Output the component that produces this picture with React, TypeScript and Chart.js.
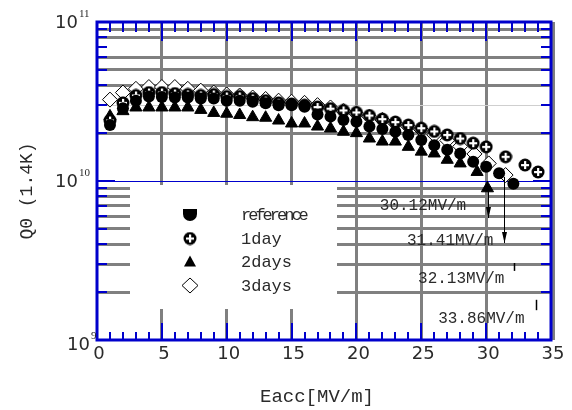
import React, { useEffect, useRef } from 'react';
import { Chart, registerables } from 'chart.js';

Chart.register(...registerables);

// ---- data (Eacc in MV/m, Q0) ----
const refE = [1, 2, 3, 4, 5, 6, 7, 8, 9, 10, 11, 12, 13, 14, 15, 16, 17, 18, 19, 20, 21, 22, 23, 24, 25, 26, 27, 28, 29, 30, 31, 32.1];
const refQ = [2.25e10, 2.87e10, 3.2e10, 3.4e10, 3.38e10, 3.35e10, 3.35e10, 3.3e10, 3.3e10, 3.2e10, 3.2e10, 3.15e10, 3.08e10, 3.0e10, 3.0e10, 2.93e10, 2.62e10, 2.54e10, 2.42e10, 2.36e10, 2.2e10, 2.12e10, 2.04e10, 1.95e10, 1.81e10, 1.68e10, 1.57e10, 1.49e10, 1.32e10, 1.23e10, 1.12e10, 9.6e9];

const oneDayE = [1, 2, 3, 4, 5, 6, 7, 8, 9, 10, 11, 12, 13, 14, 15, 16, 17, 18, 19, 20, 21, 22, 23, 24, 25, 26, 27, 28, 29, 30, 31.5, 33, 34];
const oneDayQ = [2.4e10, 3.1e10, 3.45e10, 3.6e10, 3.6e10, 3.55e10, 3.5e10, 3.45e10, 3.5e10, 3.4e10, 3.4e10, 3.3e10, 3.2e10, 3.1e10, 3.05e10, 3.0e10, 2.92e10, 2.85e10, 2.78e10, 2.7e10, 2.58e10, 2.45e10, 2.35e10, 2.25e10, 2.15e10, 2.05e10, 1.95e10, 1.85e10, 1.73e10, 1.64e10, 1.42e10, 1.26e10, 1.14e10];

const twoDaysE = [1, 2, 3, 4, 5, 6, 7, 8, 9, 10, 11, 12, 13, 14, 15, 16, 17, 18, 19, 20, 21, 22, 23, 24, 25, 26, 27, 28, 29.3, 30.1];
const twoDaysQ = [2.55e10, 2.75e10, 2.9e10, 2.9e10, 2.9e10, 2.9e10, 2.9e10, 2.8e10, 2.68e10, 2.65e10, 2.6e10, 2.52e10, 2.5e10, 2.4e10, 2.3e10, 2.3e10, 2.2e10, 2.14e10, 2.04e10, 2.0e10, 1.85e10, 1.77e10, 1.77e10, 1.64e10, 1.53e10, 1.49e10, 1.36e10, 1.29e10, 1.14e10, 9.0e9];

const threeDaysE = [1, 2, 3, 4, 5, 6, 7, 8, 9, 10, 11, 12, 13, 14, 15, 16, 17, 18, 19, 20, 21, 22, 23, 24, 25, 26, 27, 28, 29.1, 30.2, 31.5];
const threeDaysQ = [3.25e10, 3.6e10, 3.8e10, 3.9e10, 3.9e10, 3.9e10, 3.8e10, 3.7e10, 3.6e10, 3.5e10, 3.45e10, 3.35e10, 3.28e10, 3.2e10, 3.15e10, 3.1e10, 3.0e10, 2.9e10, 2.75e10, 2.65e10, 2.54e10, 2.42e10, 2.3e10, 2.2e10, 2.1e10, 1.95e10, 1.8e10, 1.65e10, 1.48e10, 1.29e10, 1.09e10];

const seriesLabels = ['reference', '1day', '2days', '3days'];

// quench annotations
const quenchE = [30.12, 31.41, 32.13, 33.86];
const quenchText = ['30.12MV/m', '31.41MV/m', '32.13MV/m', '33.86MV/m'];
const arrowTopQ = [9.3e9, 1.06e10, 3.05e9, 1.79e9];
const arrowBottomQ = [5.85e9, 4.07e9, 2.72e9, 1.54e9];
const textE = [21.8, 23.9, 24.75, 26.3];
const textQ = [6.96e9, 4.2e9, 2.42e9, 1.36e9];

// axis ticks
const xMin = 0;
const xMax = 35;
const xStep = 5;
const yMin = 1e9;
const yMax = 1e11;
const yMajor = [1e9, 1e10, 1e11];
const yMajorExp = ['9', '10', '11'];
const yGrid = [1e9, 2e9, 3e9, 4e9, 5e9, 6e9, 7e9, 8e9, 9e9, 1e10, 2e10, 3e10, 4e10, 5e10, 6e10, 7e10, 8e10, 9e10, 1e11];

const BLUE = '#0000cc';
const GREY = '#808080';
const TEXT = '#2a2a2a';
const MONO = '"Liberation Mono", "DejaVu Sans Mono", monospace';
const SANS = '"DejaVu Sans", sans-serif';

function near(a: number, b: number) {
  return Math.abs(a / b - 1) < 1e-6;
}

function makeCrossMarker(): HTMLCanvasElement {
  const c = document.createElement('canvas');
  c.width = 14;
  c.height = 14;
  const g = c.getContext('2d')!;
  g.fillStyle = '#000';
  g.beginPath();
  g.arc(7, 7, 6.5, 0, Math.PI * 2);
  g.fill();
  g.fillStyle = '#fff';
  g.fillRect(6, 3, 2.2, 8);
  g.fillRect(3, 6, 8, 2.2);
  return c;
}

function drawLegendMarker(ctx: CanvasRenderingContext2D, i: number, x: number, y: number, cross: HTMLCanvasElement) {
  ctx.save();
  ctx.fillStyle = '#000';
  ctx.strokeStyle = '#000';
  ctx.lineWidth = 1;
  if (i === 0) {
    ctx.beginPath();
    ctx.moveTo(x - 7, y - 5);
    ctx.lineTo(x + 7, y - 5);
    ctx.lineTo(x + 7, y);
    ctx.arc(x, y, 7, 0, Math.PI);
    ctx.closePath();
    ctx.fill();
  } else if (i === 1) {
    ctx.drawImage(cross, x - 7, y - 7);
  } else if (i === 2) {
    ctx.beginPath();
    ctx.moveTo(x, y - 6);
    ctx.lineTo(x + 6, y + 5);
    ctx.lineTo(x - 6, y + 5);
    ctx.closePath();
    ctx.fill();
  } else {
    ctx.beginPath();
    ctx.moveTo(x, y - 7.5);
    ctx.lineTo(x + 8, y);
    ctx.lineTo(x, y + 7.5);
    ctx.lineTo(x - 8, y);
    ctx.closePath();
    ctx.fillStyle = '#fff';
    ctx.fill();
    ctx.stroke();
  }
  ctx.restore();
}

export default function App() {
  const canvasRef = useRef<HTMLCanvasElement>(null);

  useEffect(() => {
    document.body.style.margin = '0';
    const cross = makeCrossMarker();
    const zip = (xs: number[], ys: number[]) => xs.map((x, i) => ({ x, y: ys[i] }));

    const decor = {
      id: 'decor',
      beforeDatasetsDraw(chart: any) {
        const { ctx, chartArea: a } = chart;
        ctx.save();
        ctx.strokeStyle = GREY;
        ctx.lineWidth = 3;
        ctx.beginPath();
        ctx.moveTo(a.right + 2.5, a.top);
        ctx.lineTo(a.right + 2.5, a.bottom);
        ctx.stroke();
        // legend background
        ctx.fillStyle = '#fff';
        ctx.fillRect(a.left + 33, 185, 207, 124);
        ctx.restore();
      },
      afterDatasetsDraw(chart: any) {
        const { ctx, chartArea: a } = chart;
        const xs = chart.scales.x;
        const ys = chart.scales.y;
        ctx.save();

        // blue frame
        ctx.strokeStyle = BLUE;
        ctx.lineWidth = 3;
        ctx.strokeRect(a.left, a.top, a.right - a.left, a.bottom - a.top);

        // x ticks (bottom and top)
        ctx.lineWidth = 2;
        ctx.beginPath();
        for (let v = xMin + 1; v < xMax; v++) {
          const px = Math.round(xs.getPixelForValue(v));
          const major = v % xStep === 0;
          ctx.moveTo(px, a.bottom);
          ctx.lineTo(px, a.bottom - (major ? 17 : 8));
          ctx.moveTo(px, a.top);
          ctx.lineTo(px, a.top + (major ? 19 : 10));
        }
        // y ticks (left and right)
        for (const v of yGrid) {
          if (near(v, yMin) || near(v, yMax)) continue;
          const py = Math.round(ys.getPixelForValue(v));
          const major = yMajor.some((m) => near(m, v));
          const len = major ? 18 : 10;
          ctx.moveTo(a.left, py);
          ctx.lineTo(a.left + len, py);
          ctx.moveTo(a.right, py);
          ctx.lineTo(a.right - len, py);
        }
        ctx.stroke();

        // y tick labels 10^n
        ctx.fillStyle = TEXT;
        yMajor.forEach((v, i) => {
          const py = ys.getPixelForValue(v);
          const isMin = near(v, yMin);
          const dx = isMin ? 12 : 0;
          const dy = isMin ? 5 : 1.5;
          ctx.font = `18px ${SANS}`;
          ctx.textAlign = 'right';
          ctx.textBaseline = 'middle';
          ctx.fillText('10', 78 + dx, py + dy);
          ctx.font = `11px "Liberation Serif", serif`;
          ctx.textAlign = 'left';
          ctx.fillText(yMajorExp[i], 79 + dx, py + dy - 9);
        });

        // axis titles
        ctx.fillStyle = TEXT;
        ctx.font = `19px ${MONO}`;
        ctx.textAlign = 'center';
        ctx.textBaseline = 'middle';
        ctx.fillText('Eacc[MV/m]', 317, 397);
        ctx.save();
        ctx.translate(27, 191);
        ctx.rotate(-Math.PI / 2);
        ctx.font = `18px ${MONO}`;
        ctx.fillText('Q0 (1.4K)', 0, 0);
        ctx.restore();

        // legend
        const rowY = [214, 238.5, 261.5, 285.5];
        chart.data.datasets.forEach((ds: any, i: number) => {
          drawLegendMarker(ctx, i, 190, rowY[i], cross);
          ctx.fillStyle = TEXT;
          ctx.font = `17px ${MONO}`;
          ctx.textAlign = 'left';
          ctx.textBaseline = 'middle';
          (ctx as any).letterSpacing = i === 0 ? '-3px' : '0px';
          ctx.fillText(ds.label, 241, rowY[i] + 1);
          (ctx as any).letterSpacing = '0px';
        });

        // quench annotations
        ctx.strokeStyle = '#000';
        ctx.fillStyle = '#000';
        ctx.lineWidth = 1;
        quenchE.forEach((e, i) => {
          const px = Math.round(xs.getPixelForValue(e)) + 0.5;
          const y1 = ys.getPixelForValue(arrowTopQ[i]);
          const y2 = ys.getPixelForValue(arrowBottomQ[i]);
          ctx.lineWidth = i < 2 ? 1 : 1.5;
          ctx.beginPath();
          ctx.moveTo(px, y1);
          ctx.lineTo(px, y2);
          ctx.stroke();
          if (i < 2) {
            ctx.beginPath();
            ctx.moveTo(px, y2);
            ctx.lineTo(px - 2.5, y2 - 11);
            ctx.lineTo(px + 2.5, y2 - 11);
            ctx.closePath();
            ctx.fill();
          }
        });
        ctx.fillStyle = TEXT;
        ctx.font = `16px ${MONO}`;
        ctx.textAlign = 'left';
        ctx.textBaseline = 'middle';
        quenchText.forEach((t, i) => {
          ctx.fillText(t, xs.getPixelForValue(textE[i]), ys.getPixelForValue(textQ[i]));
        });

        ctx.restore();
      },
    };

    const yGridStyle = (v: number) => {
      if (near(v, yMin) || near(v, yMax) || near(v, 7e10)) return { c: 'rgba(0,0,0,0)', w: 1 };
      if (near(v, 1e10)) return { c: BLUE, w: 1 };
      if (near(v, 3e10)) return { c: '#cfcfcf', w: 1 };
      return { c: GREY, w: 3 };
    };

    const chart = new Chart(canvasRef.current!, {
      type: 'scatter',
      data: {
        datasets: [
          { label: seriesLabels[0], data: zip(refE, refQ), pointStyle: 'circle', pointRadius: 6, backgroundColor: '#000', borderColor: '#000', borderWidth: 0 },
          { label: seriesLabels[1], data: zip(oneDayE, oneDayQ), pointStyle: cross as any, pointRadius: 7 },
          { label: seriesLabels[2], data: zip(twoDaysE, twoDaysQ), pointStyle: 'triangle', pointRadius: 7, backgroundColor: '#000', borderColor: '#000', borderWidth: 1 },
          { label: seriesLabels[3], data: zip(threeDaysE, threeDaysQ), pointStyle: 'rectRot', pointRadius: 7.5, backgroundColor: '#fff', borderColor: '#000', borderWidth: 1 },
        ],
      },
      options: {
        responsive: false,
        animation: false,
        devicePixelRatio: 1,
        layout: { padding: { top: 22, right: 21, left: 0, bottom: 0 } },
        plugins: { legend: { display: false }, tooltip: { enabled: false } },
        scales: {
          x: {
            type: 'linear',
            min: xMin,
            max: xMax,
            ticks: { stepSize: xStep, font: { family: SANS, size: 18 }, color: TEXT, padding: 4, labelOffset: 2, maxRotation: 0, autoSkip: false },
            grid: {
              color: (c: any) => (c.tick && (c.tick.value === xMin || c.tick.value === xMax) ? 'rgba(0,0,0,0)' : GREY),
              lineWidth: 3,
              drawTicks: false,
            },
            border: { display: false },
            afterFit: (s: any) => { s.height = 70; },
          },
          y: {
            type: 'logarithmic',
            min: yMin,
            max: yMax,
            ticks: { display: false },
            afterBuildTicks: (s: any) => { s.ticks = yGrid.map((v) => ({ value: v })); },
            grid: {
              color: (c: any) => yGridStyle(c.tick ? c.tick.value : 0).c,
              lineWidth: (c: any) => yGridStyle(c.tick ? c.tick.value : 0).w,
              drawTicks: false,
            },
            border: { display: false },
            afterFit: (s: any) => { s.width = 97; },
          },
        },
      },
      plugins: [decor],
    } as any);

    return () => chart.destroy();
  }, []);

  return (
    <div style={{ position: 'fixed', left: 0, top: 0, width: 572, height: 410, background: '#fff' }}>
      <canvas ref={canvasRef} width={572} height={410} style={{ display: 'block', width: 572, height: 410 }} />
    </div>
  );
}
